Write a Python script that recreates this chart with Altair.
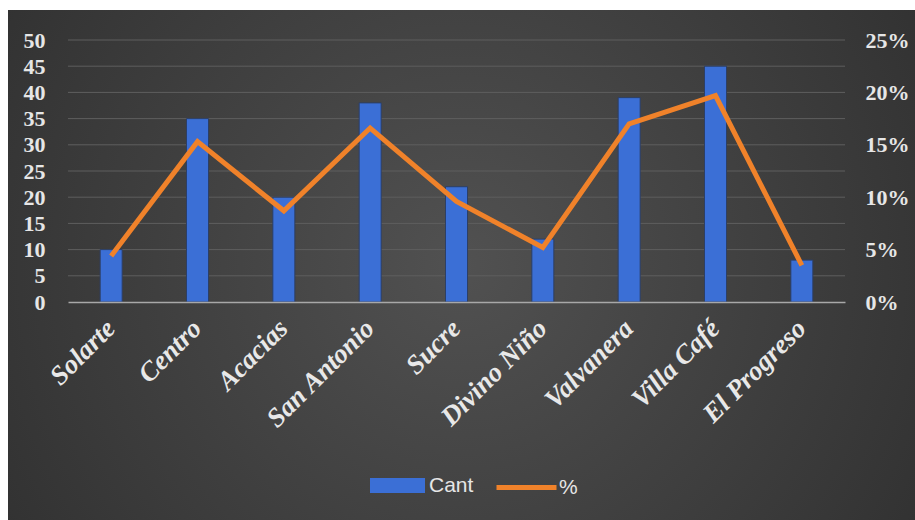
import altair as alt
import pandas as pd

categories = ["Solarte", "Centro", "Acacias", "San Antonio", "Sucre",
              "Divino Niño", "Valvanera", "Villa Café", "El Progreso"]
cant = [10, 35, 20, 38, 22, 12, 39, 45, 8]
pct = [0.044, 0.153, 0.087, 0.166, 0.096, 0.052, 0.170, 0.197, 0.035]
left_ticks = [0, 5, 10, 15, 20, 25, 30, 35, 40, 45, 50]
grid_ticks = [5, 10, 15, 20, 25, 30, 35, 40, 45, 50]
right_ticks = [0, 0.05, 0.10, 0.15, 0.20, 0.25]

df = pd.DataFrame({"cat": categories, "cant": cant, "pct": pct,
                   "s1": ["Cant"] * len(categories), "s2": ["%"] * len(categories)})
grid_df = pd.DataFrame({"g": grid_ticks})
bg_df = pd.DataFrame({"a": [0]})

W, H = 777, 262
PL, PT = 68, 40

x_enc = alt.X("cat:N", sort=categories, title=None,
              scale=alt.Scale(paddingInner=0, paddingOuter=0),
              axis=alt.Axis(labelAngle=-45, labelAlign="right", labelBaseline="middle",
                            labelFont="Liberation Serif", labelFontSize=27,
                            labelFontWeight="bold", labelFontStyle="italic",
                            labelColor="#e8e8e8", labelPadding=22, ticks=False,
                            domain=True, domainColor="#a8a8a8", domainWidth=1.5,
                            grid=False, zindex=1))

bg = alt.Chart(bg_df).mark_rect(
    color=alt.RadialGradient(gradient="radial", x1=0.5, y1=0.5, x2=0.5, y2=0.5,
                             r1=0, r2=0.75,
                             stops=[alt.GradientStop(offset=0, color="#515151"),
                                    alt.GradientStop(offset=1, color="#292929")])
).encode(x=alt.value(8 - PL), x2=alt.value(915 - PL),
         y=alt.value(10 - PT), y2=alt.value(520 - PT))

grid = alt.Chart(grid_df).mark_rule(color="#5e5e5e", strokeWidth=1).encode(
    y=alt.Y("g:Q", scale=alt.Scale(domain=[0, 50]), axis=None))

bars = alt.Chart(df).mark_bar(size=22, stroke="#2c3f66", strokeWidth=1).encode(
    x=x_enc,
    y=alt.Y("cant:Q", title=None, scale=alt.Scale(domain=[0, 50]),
            axis=alt.Axis(values=left_ticks, orient="left", ticks=False, domain=False,
                          grid=False, labelFont="Liberation Serif", labelFontSize=22,
                          labelFontWeight="bold", labelColor="#e6e6e6",
                          labelPadding=23, zindex=1)),
    color=alt.Color("s1:N", title=None,
                    scale=alt.Scale(domain=["Cant"], range=["#3b6fd6"]),
                    legend=alt.Legend(orient="none", legendX=302, legendY=418,
                                      symbolType="M-1,-0.27H1V0.27H-1Z", symbolSize=3025,
                                      symbolStrokeWidth=0,
                                      labelFont="Liberation Sans", labelFontSize=21,
                                      labelColor="#e6e6e6", padding=0, labelOffset=4)))

line = alt.Chart(df).mark_line(strokeWidth=5, strokeCap="butt", strokeJoin="miter").encode(
    x=alt.X("cat:N", sort=categories),
    y=alt.Y("pct:Q", title=None, scale=alt.Scale(domain=[0, 0.25]),
            axis=alt.Axis(values=right_ticks, format=".0%", orient="right", ticks=False,
                          domain=False, grid=False, labelFont="Liberation Serif",
                          labelFontSize=22, labelFontWeight="bold", labelColor="#e6e6e6",
                          labelPadding=20, zindex=1)),
    stroke=alt.Stroke("s2:N", title=None,
                      scale=alt.Scale(domain=["%"], range=["#f0822a"]),
                      legend=alt.Legend(orient="none", legendX=426, legendY=415,
                                        symbolType="stroke", symbolSize=3600,
                                        symbolStrokeWidth=5,
                                        labelFont="Liberation Sans", labelFontSize=21,
                                        labelColor="#e6e6e6", padding=0, labelOffset=0)))

chart = alt.layer(bg, grid, bars, line).resolve_scale(
    y="independent", color="independent", stroke="independent"
).properties(
    width=W, height=H, background="white",
    padding={"left": PL, "top": PT, "right": 915 - PL - W, "bottom": 520 - PT - H},
    autosize=alt.AutoSizeParams(type="none")
).configure_view(stroke=None)

chart.save("out.html", embed_options={"renderer": "svg", "actions": False})
